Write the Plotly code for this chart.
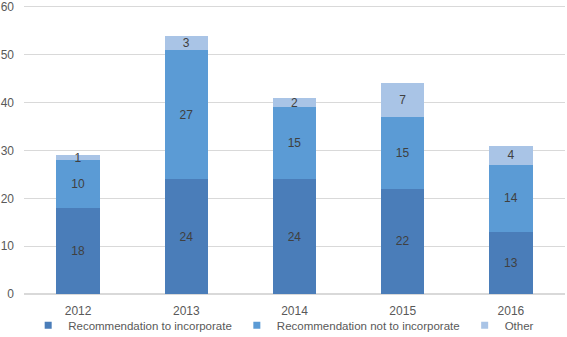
import plotly.graph_objects as go

years = ["2012", "2013", "2014", "2015", "2016"]
rec_incorporate = [18, 24, 24, 22, 13]
rec_not_incorporate = [10, 27, 15, 15, 14]
other = [1, 3, 2, 7, 4]

series = [
    ("Recommendation to incorporate", rec_incorporate, "#4a7db9"),
    ("Recommendation not to incorporate", rec_not_incorporate, "#5b9bd5"),
    ("Other", other, "#a9c4e6"),
]

fig = go.Figure()
for name, vals, col in series:
    fig.add_trace(go.Bar(
        x=years, y=vals, name=name, marker=dict(color=col, line=dict(width=0)),
        text=vals, textposition="inside", insidetextanchor="middle",
        textangle=0, constraintext="none",
        textfont=dict(color="#404040", size=12, family="Liberation Sans"),
        showlegend=False,
    ))
for name, vals, col in series:
    fig.add_trace(go.Scatter(
        x=[None], y=[None], mode="markers", name=name,
        marker=dict(symbol="square", size=7, color=col),
        showlegend=True,
    ))

fig.update_layout(
    barmode="stack", bargap=0.6,
    width=567, height=337,
    margin=dict(l=24, r=2, t=5, b=43, autoexpand=False),
    plot_bgcolor="white", paper_bgcolor="white",
    font=dict(family="Liberation Sans", size=12, color="#595959"),
    showlegend=True,
    legend=dict(orientation="h", x=0.48, xanchor="center", y=-0.058, yanchor="top",
                font=dict(size=11.5, color="#595959"), traceorder="normal",
                itemwidth=30, bgcolor="rgba(0,0,0,0)"),
)
fig.update_yaxes(range=[0, 60.4], tickvals=[0, 10, 20, 30, 40, 50, 60],
                 showgrid=True, gridcolor="#d9d9d9",
                 zeroline=True, zerolinecolor="#d9d9d9", ticks="", showline=False,
                 automargin=False, ticklabelstandoff=9,
                 tickfont=dict(size=12, color="#595959"))
fig.update_xaxes(showgrid=False, ticks="", showline=False, automargin=False,
                 ticklabelstandoff=8,
                 tickfont=dict(size=12, color="#595959"))
fig.write_html("out.html", config={"displayModeBar": False},
               post_script="document.body.style.margin='0';")
